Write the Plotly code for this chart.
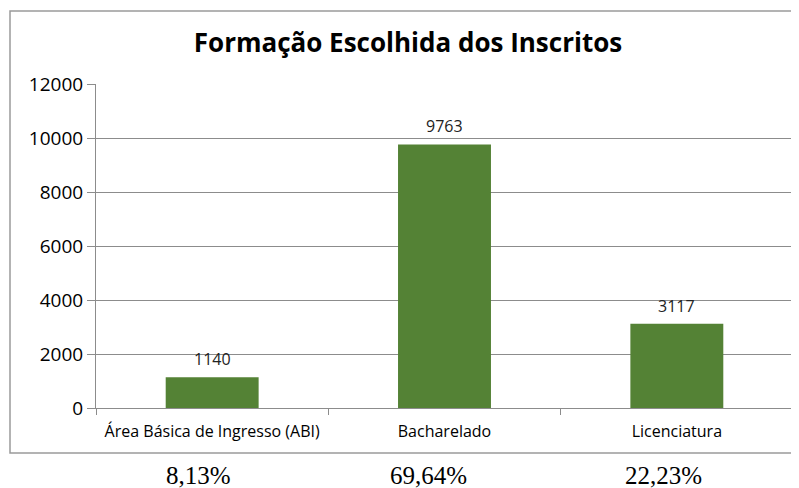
import plotly.graph_objects as go

categories = ["Área Básica de Ingresso (ABI)", "Bacharelado", "Licenciatura"]
values = [1140, 9763, 3117]
percent_labels = ["8,13%", "69,64%", "22,23%"]
percent_x_px = [198, 428, 663]
y_ticks = [0, 2000, 4000, 6000, 8000, 10000, 12000]
y_tick_text = [str(v) for v in y_ticks]

# page body has an 8px margin; figure is placed at (8, 8)
OFF = 8
W, H = 799 - OFF, 488 - OFF
L, R, T, B = 96 - OFF, W - (793 - OFF), 84 - OFF, H - (408 - OFF)
pw = W - L - R
ph = H - T - B

def px_x(px):
    return (px - OFF - L) / pw

def px_y(py):
    return (H - B - (py - OFF)) / ph

SANS = "Open Sans, Noto Sans, sans-serif"

fig = go.Figure()
fig.add_trace(go.Bar(
    x=categories, y=values, width=0.4,
    marker=dict(color="#548235", line=dict(width=0)),
    hoverinfo="x+y",
))

annotations = []
for c, v in zip(categories, values):
    annotations.append(dict(x=c, y=v, xref="x", yref="y", text=str(v), showarrow=False,
                            yanchor="bottom", yshift=5,
                            font=dict(family=SANS, size=16, color="#222")))
for t, xp in zip(percent_labels, percent_x_px):
    annotations.append(dict(x=px_x(xp), y=px_y(475), xref="paper", yref="paper", text=t,
                            showarrow=False, xanchor="center", yanchor="middle",
                            font=dict(family="Liberation Serif, Times New Roman, serif", size=25, color="#000")))

fig.update_layout(
    width=W, height=H,
    margin=dict(l=L, r=R, t=T, b=B, autoexpand=False),
    paper_bgcolor="white", plot_bgcolor="white",
    showlegend=False,
    title=dict(text="<b>Formação Escolhida dos Inscritos</b>", x=(408 - OFF) / W, xanchor="center",
               y=1 - (43 - OFF) / H, yanchor="middle",
               font=dict(family=SANS, size=26, color="#000")),
    annotations=annotations,
    shapes=[dict(type="rect", xref="paper", yref="paper",
                 x0=px_x(10), x1=px_x(805), y0=px_y(453), y1=px_y(11),
                 line=dict(color="#9a9a9a", width=1.5), layer="below")],
)
fig.update_yaxes(range=[0, 12000], tickvals=y_ticks, ticktext=y_tick_text,
                 showgrid=True, gridcolor="#8c8c8c", gridwidth=1,
                 showline=True, linecolor="#8c8c8c", linewidth=1, ticks="outside", ticklen=8,
                 tickcolor="#8c8c8c", zeroline=False,
                 tickfont=dict(family=SANS, size=19, color="#000"))
fig.update_xaxes(showline=True, linecolor="#8c8c8c", linewidth=1, ticks="outside", ticklen=6,
                 tickcolor="#8c8c8c", tickson="boundaries", showgrid=False, ticklabelstandoff=9,
                 tickfont=dict(family=SANS, size=16, color="#000"))

fig.write_html("out.html")
